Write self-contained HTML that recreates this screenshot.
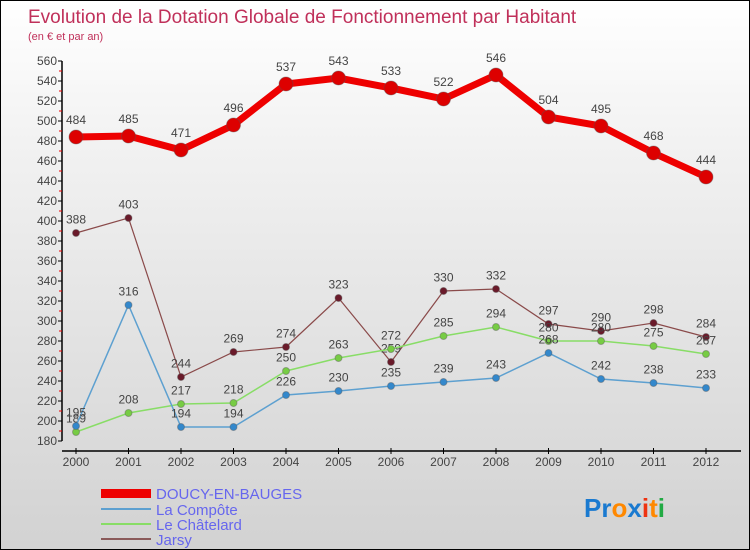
<!DOCTYPE html>
<html><head><meta charset="utf-8"><style>
body{margin:0}
#c{position:relative;width:748px;height:548px;border:1px solid #000;background:linear-gradient(#ffffff,#f0f0f0 30%,#d2d2d2);font-family:"Liberation Sans",sans-serif;overflow:hidden}
svg text{font-family:"Liberation Sans",sans-serif}
</style></head><body>
<div id="c">
<svg id="s" width="748" height="548">
<text x="27" y="22" font-size="19" fill="#c0305a">Evolution de la Dotation Globale de Fonctionnement par Habitant</text>
<text x="27" y="39" font-size="11" fill="#c0305a">(en € et par an)</text>
<g id="axes"></g><g id="series"></g>
<g>
<rect x="100" y="488" width="50" height="9" fill="#ee0000"/>
<text x="155" y="498" font-size="15" fill="#6666ee">DOUCY-EN-BAUGES</text>
<rect x="100" y="507" width="50" height="2" fill="#5da0d0"/>
<text x="155" y="514" font-size="15" fill="#6666ee">La Compôte</text>
<rect x="100" y="522" width="50" height="2" fill="#88dd66"/>
<text x="155" y="529" font-size="15" fill="#6666ee">Le Châtelard</text>
<rect x="100" y="537" width="50" height="2" fill="#8a5a5a"/>
<text x="155" y="544" font-size="15" fill="#6666ee">Jarsy</text>
</g>
<text x="583" y="516" font-size="26" font-weight="bold"><tspan fill="#1a7ad0">Pr</tspan><tspan fill="#ff8800">o</tspan><tspan fill="#1a7ad0">x</tspan><tspan fill="#ee3311">i</tspan><tspan fill="#ff8800">t</tspan><tspan fill="#22aa44">i</tspan></text>
</svg></div>
<script>
const years=["2000","2001","2002","2003","2004","2005","2006","2007","2008","2009","2010","2011","2012"];
const doucy=[484,485,471,496,537,543,533,522,546,504,495,468,444];
const compote=[195,316,194,194,226,230,235,239,243,268,242,238,233];
const chatelard=[189,208,217,218,250,263,272,285,294,280,280,275,267];
const jarsy=[388,403,244,269,274,323,259,330,332,297,290,298,284];
const yTicks=[180,200,220,240,260,280,300,320,340,360,380,400,420,440,460,480,500,520,540,560];
const NS="http://www.w3.org/2000/svg";
const X=i=>75+i*52.5, Y=v=>440-(v-180);
function mk(p,t,a){const e=document.createElementNS(NS,t);for(const k in a)e.setAttribute(k,a[k]);p.appendChild(e);return e;}
const ax=document.getElementById('axes');
let l=mk(ax,'line',{x1:61,y1:60,x2:61,y2:440,stroke:'#000','stroke-width':1.5});


l=mk(ax,'line',{x1:61,y1:450,x2:740,y2:450,stroke:'#000','stroke-width':1.5});


yTicks.forEach(v=>{
 mk(ax,'line',{x1:57,y1:Y(v),x2:61,y2:Y(v),stroke:'#000'});
 if(v<560)mk(ax,'line',{x1:58,y1:Y(v+10),x2:61,y2:Y(v+10),stroke:'#e00'});
 const t=mk(ax,'text',{x:56,y:Y(v)+4,'font-size':12,'text-anchor':'end',fill:'#444'});
 t.textContent=v;
 
 
});
years.forEach((y,i)=>{
 mk(ax,'line',{x1:X(i),y1:447,x2:X(i),y2:453,stroke:'#000'});
 const t=mk(ax,'text',{x:X(i),y:465,'font-size':12,'text-anchor':'middle',fill:'#444'});
 t.textContent=y;
 
 
});
const sg=document.getElementById('series');
function draw(name,data,color,w,r,dot){
 const g=mk(sg,'g',{});
 
 
 const p=mk(g,'polyline',{points:data.map((v,i)=>X(i)+','+Y(v)).join(' '),fill:'none',stroke:color,'stroke-width':w});
 
 
 data.forEach((v,i)=>{
  const c=mk(g,'circle',{cx:X(i),cy:Y(v),r:r,fill:dot,stroke:'#555','stroke-opacity':0.4});
  
  
  const t=mk(g,'text',{x:X(i),y:Y(v)-r-6,'font-size':12,'text-anchor':'middle',fill:'#444'});
  t.textContent=v;
  
  
 });
}
draw('jarsy',jarsy,'#8a4a4a',1.2,3.5,'#6a1a2a');
draw('le-chatelard',chatelard,'#88dd66',1.5,3.5,'#77cc44');
draw('la-compote',compote,'#5da0d0',1.5,3.5,'#3388cc');
draw('doucy',doucy,'#ee0000',7,7,'#dd0000');
</script>
</body></html>
